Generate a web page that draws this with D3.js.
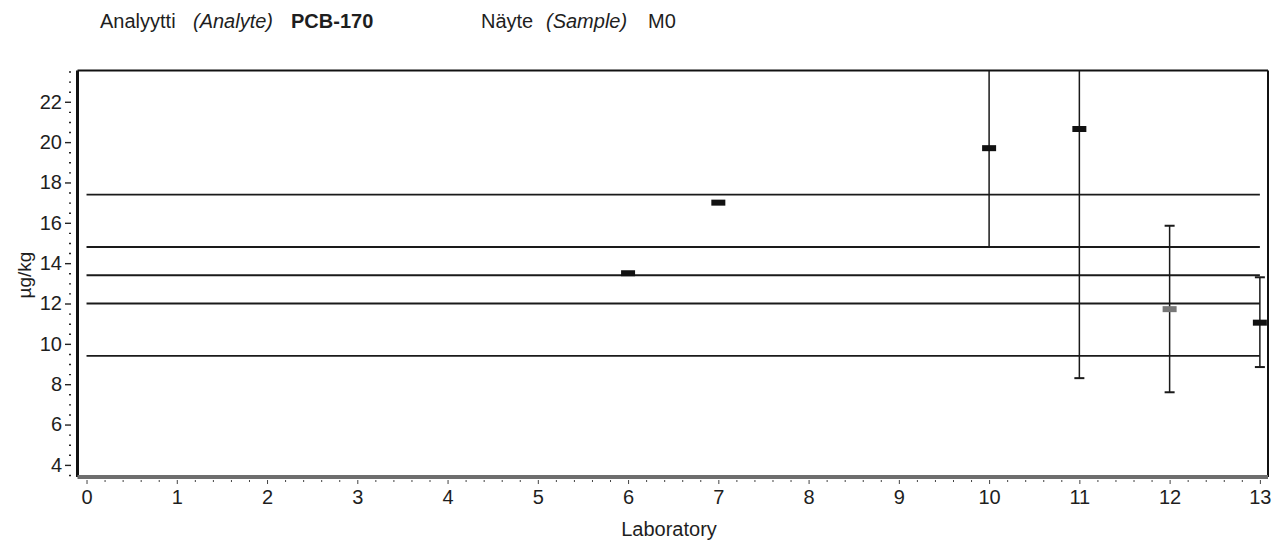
<!DOCTYPE html>
<html>
<head>
<meta charset="utf-8">
<title>PCB-170 M0</title>
<script src="https://d3js.org/d3.v7.min.js"></script>
<style>
    body { margin: 0; background: #fff; }
    svg { display: block; font-family: "Liberation Sans", Arial, sans-serif; }
</style>
</head>
<body>
<div id="chart"></div>
<script>
// laboratories with a reported result
const labs = [6, 7, 10, 11, 12, 13];
const results = [13.5, 17.0, 19.7, 20.65, 11.72, 11.05];
const uncLow = [null, null, 14.8, 8.3, 7.6, 8.85];
const uncHigh = [null, null, 24.6, 33.0, 15.85, 13.3];
const markerFill = ["#111", "#111", "#111", "#111", "#777", "#111"];

// assigned value and limit lines
const refLines = [17.4, 14.8, 13.4, 12.0, 9.4];

const xTicks = [0, 1, 2, 3, 4, 5, 6, 7, 8, 9, 10, 11, 12, 13];
const yTicks = [4, 6, 8, 10, 12, 14, 16, 18, 20, 22];

const W = 1288, H = 543;
const plotLeft = 77.5, plotRight = 1268, plotTop = 70.5, plotBottom = 477;

const svg = d3.select("#chart").append("svg")
    .attr("width", W)
    .attr("height", H);

const x = d3.scaleLinear().domain([-0.1, 13.09]).range([plotLeft, plotRight]);
const y = d3.scaleLinear().domain([3.4, 23.55]).range([plotBottom, plotTop]);

// header: label pieces and their left edges
const header = [
    { t: "Analyytti", x: 100, style: "normal", weight: "normal" },
    { t: "(Analyte)", x: 193, style: "italic", weight: "normal" },
    { t: "PCB-170", x: 291, style: "normal", weight: "bold" },
    { t: "Näyte", x: 481, style: "normal", weight: "normal" },
    { t: "(Sample)", x: 546, style: "italic", weight: "normal" },
    { t: "M0", x: 648, style: "normal", weight: "normal" }
];
svg.selectAll(".head")
    .data(header)
    .enter()
    .append("text")
    .attr("class", "head")
    .attr("x", d => d.x)
    .attr("y", 28)
    .attr("font-size", 20)
    .attr("font-style", d => d.style)
    .attr("font-weight", d => d.weight)
    .attr("fill", "#1e1e1e")
    .text(d => d.t);

svg.append("clipPath").attr("id", "plotClip")
    .append("rect")
    .attr("x", plotLeft).attr("y", plotTop)
    .attr("width", plotRight - plotLeft).attr("height", plotBottom - plotTop);

// y axis (ticks sit a little left of the frame)
const yMinor = d3.range(3.5, 23.51, 0.5).filter(v => v % 2 !== 0);
const yAxisG = svg.append("g").attr("transform", "translate(71,0)");
yAxisG.call(d3.axisLeft(y).tickValues(yMinor).tickSize(2).tickFormat(""));
yAxisG.append("g").call(d3.axisLeft(y).tickValues(yTicks).tickSize(6).tickPadding(3));
yAxisG.selectAll(".domain").remove();
yAxisG.selectAll("line").attr("stroke", "#222").attr("stroke-width", 1.4);
yAxisG.selectAll("text")
    .attr("font-size", 20)
    .attr("fill", "#1e1e1e")
    .attr("font-family", "Liberation Sans, Arial, sans-serif");

// x axis
const xMinor = d3.range(0, 13.01, 0.2).filter(v => Math.abs(v - Math.round(v)) > 0.01);
const xAxisG = svg.append("g").attr("transform", "translate(0," + (plotBottom + 3) + ")");
xAxisG.call(d3.axisBottom(x).tickValues(xMinor).tickSize(2).tickFormat(""));
xAxisG.append("g").call(d3.axisBottom(x).tickValues(xTicks).tickSize(4).tickPadding(6));
xAxisG.selectAll(".domain").remove();
xAxisG.selectAll("line").attr("stroke", "#444").attr("stroke-width", 1);
xAxisG.selectAll("text")
    .attr("font-size", 20)
    .attr("fill", "#1e1e1e")
    .attr("font-family", "Liberation Sans, Arial, sans-serif");

// frame
svg.append("line").attr("x1", plotLeft).attr("x2", plotRight).attr("y1", plotTop).attr("y2", plotTop)
    .attr("stroke", "#111").attr("stroke-width", 2.2);
svg.append("line").attr("x1", plotRight).attr("x2", plotRight).attr("y1", plotTop).attr("y2", plotBottom)
    .attr("stroke", "#111").attr("stroke-width", 2);
svg.append("line").attr("x1", plotLeft).attr("x2", plotLeft).attr("y1", plotTop).attr("y2", plotBottom)
    .attr("stroke", "#111").attr("stroke-width", 3);
svg.append("line").attr("x1", plotLeft).attr("x2", plotRight).attr("y1", plotBottom).attr("y2", plotBottom)
    .attr("stroke", "#6e6e6e").attr("stroke-width", 4);

const plot = svg.append("g").attr("clip-path", "url(#plotClip)");

// horizontal reference lines
plot.selectAll(".ref")
    .data(refLines)
    .enter()
    .append("line")
    .attr("class", "ref")
    .attr("x1", x(0)).attr("x2", x(13))
    .attr("y1", d => y(d)).attr("y2", d => y(d))
    .attr("stroke", "#1a1a1a")
    .attr("stroke-width", 1.8);

const pts = labs.map((lab, i) => ({
    lab: lab, value: results[i], lo: uncLow[i], hi: uncHigh[i], fill: markerFill[i]
}));
const bars = pts.filter(d => d.lo !== null);

// error bars
plot.selectAll(".ebar")
    .data(bars)
    .enter()
    .append("line")
    .attr("class", "ebar")
    .attr("x1", d => x(d.lab)).attr("x2", d => x(d.lab))
    .attr("y1", d => y(d.lo)).attr("y2", d => y(d.hi))
    .attr("stroke", "#1a1a1a")
    .attr("stroke-width", 1.5);

plot.selectAll(".capLo")
    .data(bars)
    .enter()
    .append("line")
    .attr("class", "capLo")
    .attr("x1", d => x(d.lab) - 5).attr("x2", d => x(d.lab) + 5)
    .attr("y1", d => y(d.lo)).attr("y2", d => y(d.lo))
    .attr("stroke", "#1a1a1a")
    .attr("stroke-width", 2);

plot.selectAll(".capHi")
    .data(bars)
    .enter()
    .append("line")
    .attr("class", "capHi")
    .attr("x1", d => x(d.lab) - 5).attr("x2", d => x(d.lab) + 5)
    .attr("y1", d => y(d.hi)).attr("y2", d => y(d.hi))
    .attr("stroke", "#1a1a1a")
    .attr("stroke-width", 2);

// result markers
svg.selectAll(".mark")
    .data(pts)
    .enter()
    .append("rect")
    .attr("class", "mark")
    .attr("x", d => x(d.lab) - 7)
    .attr("y", d => y(d.value) - 3)
    .attr("width", 14)
    .attr("height", 6)
    .attr("fill", d => d.fill);

// axis titles
svg.append("text")
    .attr("transform", "translate(31,275) rotate(-90)")
    .attr("text-anchor", "middle")
    .attr("font-size", 19)
    .attr("fill", "#1e1e1e")
    .text("µg/kg");

svg.append("text")
    .attr("x", 669).attr("y", 536)
    .attr("text-anchor", "middle")
    .attr("font-size", 20)
    .attr("fill", "#1e1e1e")
    .text("Laboratory");
</script>
</body>
</html>
